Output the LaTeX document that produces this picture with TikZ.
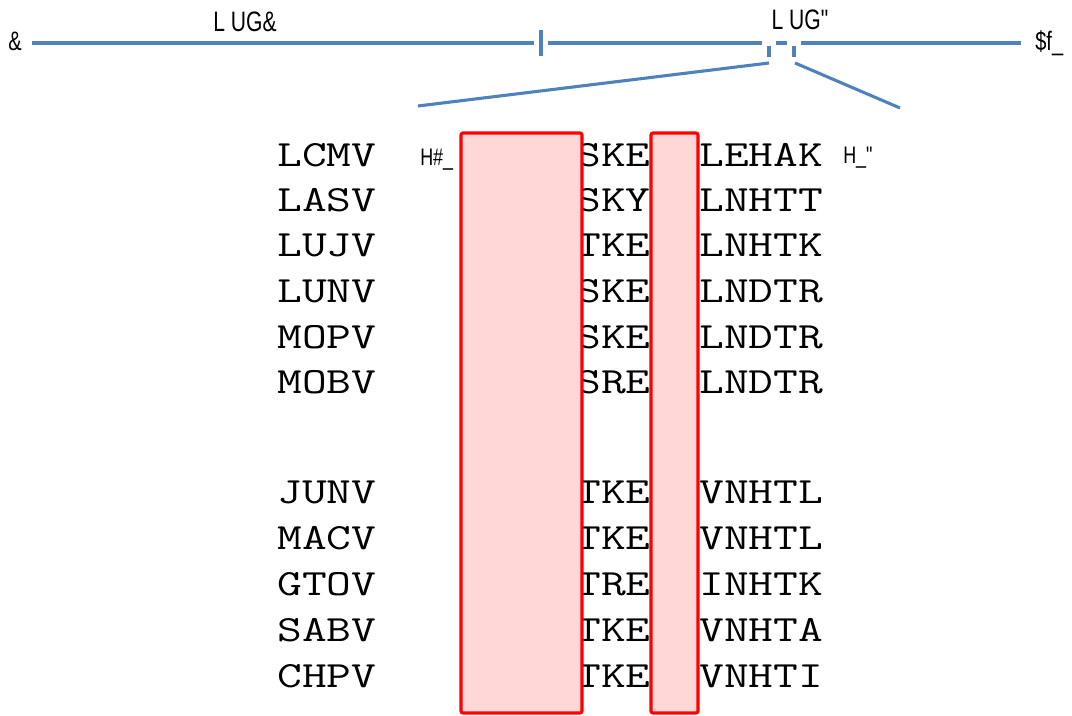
\documentclass[tikz,border=0pt]{standalone}
\usepackage{fontspec}
\setmainfont{Liberation Sans}
\newfontfamily\seqfont[FakeStretch=1.3]{Latin Modern Mono}
\newfontfamily\narrowfont[FakeStretch=0.75]{Liberation Sans}
\usetikzlibrary{positioning,calc}
\definecolor{genomeblue}{RGB}{79,129,189}
\definecolor{boxpink}{RGB}{255,215,215}

\begin{document}
\begin{tikzpicture}[x=0.025cm, y=-0.025cm,
    genome/.style={genomeblue, line width=2.2pt},
    seq/.style={font=\fontsize{26.3}{26.3}\seqfont, inner sep=0pt, anchor=base west},
    tag/.style={font=\fontsize{17}{17}\narrowfont, inner sep=0pt, anchor=base west},
    hilite/.style={draw=red, fill=boxpink, line width=2.2pt, rounded corners=1.5pt}]
    \useasboundingbox (0,0) rectangle (1072,716);

    % genome bar with the two segment marks
    \node [font=\fontsize{19}{19}\narrowfont, inner sep=0pt, anchor=base west] (five) at (8,51) {\&};
    \node [font=\fontsize{19}{19}\narrowfont, inner sep=0pt, anchor=base west] (three) at (1035,51) {\$f\_};
    \node [font=\fontsize{20}{20}\narrowfont, inner sep=0pt, anchor=base] (segA) at (245,32) {L UG\&};
    \node [font=\fontsize{20}{20}\narrowfont, inner sep=0pt, anchor=base] (segB) at (800,30) {L UG"};
    \coordinate (barL) at (32,43);
    \coordinate (barR) at (1021,43);
    \coordinate (cutA) at (541,43);
    \coordinate (cutL) at (769,43);
    \coordinate (cutR) at (794,43);
    \coordinate (zoomL) at (418,106);
    \coordinate (zoomR) at (900,108);
    \draw [genome] (barL) -- ($(cutA)+(-7,0)$);
    \draw [genome] ($(cutA)+(0,-13)$) -- ($(cutA)+(0,13)$);
    \draw [genome] ($(cutA)+(7,0)$) -- ($(cutL)+(-7,0)$);
    \draw [genome] ($(cutL)+(0,3)$) -- ($(cutL)+(0,14)$);
    \draw [genome] ($(cutL)+(7,0)$) -- ($(cutR)+(-7,0)$);
    \draw [genome] ($(cutR)+(0,3)$) -- ($(cutR)+(0,14)$);
    \draw [genome] ($(cutR)+(7,0)$) -- (barR);
    \draw [genome] ($(cutL)+(0,20)$) -- (zoomL);
    \draw [genome] ($(cutR)+(1,20)$) -- (zoomR);

    % aligned sequences
    \foreach \name/\mid/\tail/\y in {LCMV/SKE/LEHAK/166, LASV/SKY/LNHTT/211,
        LUJV/TKE/LNHTK/256, LUNV/SKE/LNDTR/302, MOPV/SKE/LNDTR/348,
        MOBV/SRE/LNDTR/393, JUNV/TKE/VNHTL/503, MACV/TKE/VNHTL/549,
        GTOV/TRE/INHTK/595, SABV/TKE/VNHTA/641, CHPV/TKE/VNHTI/687} {
      \node [seq] (n-\name) at (277,\y) {\name};
      \node [seq] (m-\name) at (576,\y) {\mid};
      \node [seq] (t-\name) at (699,\y) {\tail};
    }
    \node [tag] (nterm) at (420,165) {H\#\_};
    \node [tag] (cterm) at (843,163) {H\_"};

    % highlighted columns
    \draw [hilite] (461,133) rectangle (582,713);
    \draw [hilite] (651,133) rectangle (698,713);
\end{tikzpicture}
\end{document}
